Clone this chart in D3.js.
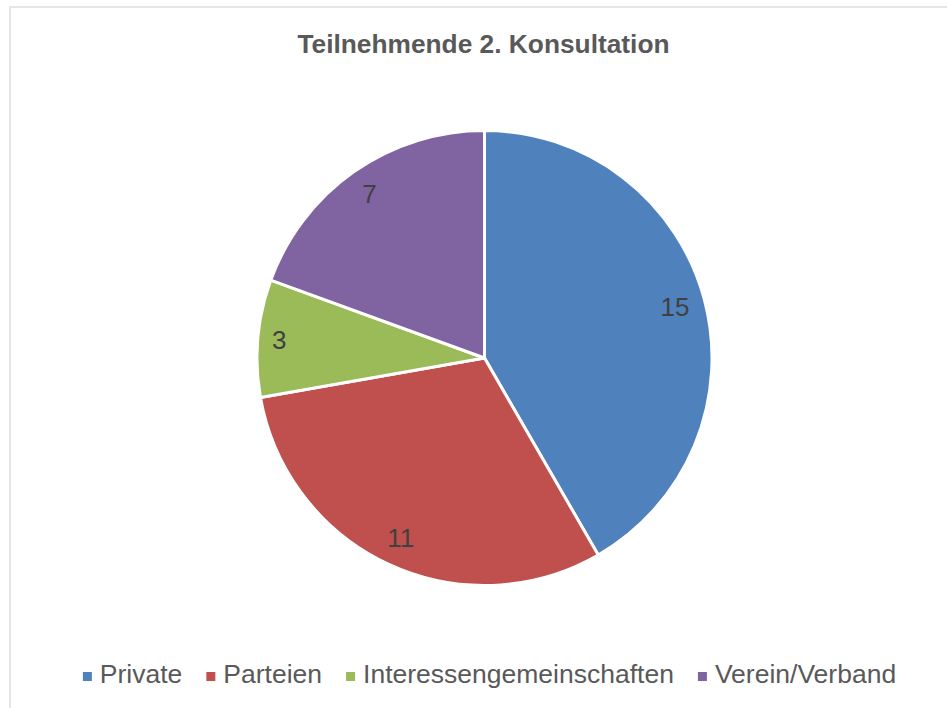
<!DOCTYPE html>
<html>
<head>
<meta charset="utf-8">
<script src="https://cdn.jsdelivr.net/npm/d3@7"></script>
<style>
  body { margin: 0; background: #fff; }
  text { font-family: Arial, "Liberation Sans", sans-serif; }
</style>
</head>
<body>
<svg id="chart" width="947" height="708"></svg>
<script>
// data
var categories = ["Private", "Parteien", "Interessengemeinschaften", "Verein/Verband"];
var values = [15, 11, 3, 7];
var colors = ["#4F81BD", "#C0504D", "#9BBB59", "#8064A2"];
var title = "Teilnehmende 2. Konsultation";

var svg = d3.select("#chart");
var cx = 484.5, cy = 358, radius = 227.5;

// outer frame
svg.append("rect")
    .attr("x", 10).attr("y", 7)
    .attr("width", 960).attr("height", 720)
    .attr("fill", "#fff")
    .attr("stroke", "#d9d9d9")
    .attr("stroke-width", 1.3);

// title
svg.append("text")
    .attr("x", 483.5).attr("y", 53)
    .attr("text-anchor", "middle")
    .attr("font-size", 26.3)
    .attr("font-weight", "bold")
    .attr("fill", "#595959")
    .text(title);

var pieData = categories.map(function(c, i){ return {name: c, value: values[i], color: colors[i]}; });
var pie = d3.pie().sort(null).value(function(d){ return d.value; });
var arc = d3.arc().innerRadius(0).outerRadius(radius);

var g = svg.append("g").attr("transform", "translate(" + cx + "," + cy + ")");

var arcs = pie(pieData);
g.selectAll("path.slice")
    .data(arcs)
    .enter().append("path")
    .attr("class", "slice")
    .attr("d", arc)
    .attr("fill", function(d){ return d.data.color; })
    .attr("stroke", "#fff")
    .attr("stroke-width", 3)
    .attr("stroke-linejoin", "round");

// labels placed "inside end": push along the mid angle until the text box hits the limit
var labelLimit = 219;
g.selectAll("text.lbl")
    .data(arcs)
    .enter().append("text")
    .attr("class", "lbl")
    .attr("font-size", 26)
    .attr("fill", "#404040")
    .attr("text-anchor", "middle")
    .text(function(d){ return d.data.value; })
    .each(function(d){
        var el = d3.select(this);
        var w = this.getComputedTextLength() / 2 + 4, h = 14.5;
        var a = (d.startAngle + d.endAngle) / 2;
        var ux = Math.sin(a), uy = -Math.cos(a);
        var sx = ux >= 0 ? 1 : -1, sy = uy >= 0 ? 1 : -1;
        var b = ux * sx * w + uy * sy * h;
        var t = -b + Math.sqrt(b * b - (w * w + h * h - labelLimit * labelLimit));
        el.attr("x", t * ux).attr("y", t * uy).attr("dy", "0.36em");
    });

// legend
var legend = svg.append("g").attr("class", "legend");
var items = legend.selectAll("g.item")
    .data(pieData)
    .enter().append("g")
    .attr("class", "item");

items.append("rect")
    .attr("width", 9).attr("height", 9)
    .attr("y", -11)
    .attr("fill", function(d){ return d.color; });

items.append("text")
    .attr("x", 17)
    .attr("font-size", 26.5)
    .attr("fill", "#595959")
    .text(function(d){ return d.name; });

var xpos = 0;
items.each(function(d){
    var tw = d3.select(this).select("text").node().getComputedTextLength();
    d3.select(this).attr("transform", "translate(" + xpos + ",0)");
    xpos += 17 + tw + 24;
});
var legendWidth = xpos - 24;
legend.attr("transform", "translate(" + (489.5 - legendWidth / 2) + ",683)");
</script>
</body>
</html>
